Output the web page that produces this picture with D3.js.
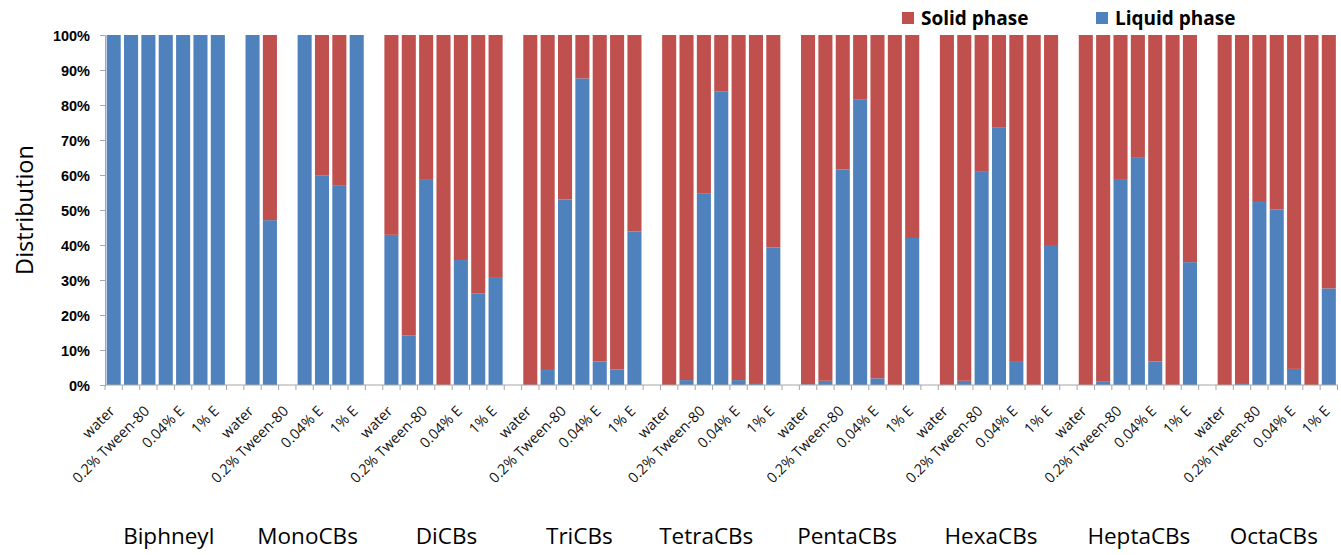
<!DOCTYPE html>
<html>
<head>
<meta charset="utf-8">
<script src="https://cdn.jsdelivr.net/npm/d3@7"></script>
<style>
  html, body { margin: 0; padding: 0; background: #fff; }
  svg { display: block; }
</style>
</head>
<body>
<svg id="chart" width="1341" height="555"></svg>
<script>
// ---------------- DATA ----------------
const groups = ["Biphneyl", "MonoCBs", "DiCBs", "TriCBs", "TetraCBs", "PentaCBs", "HexaCBs", "HeptaCBs", "OctaCBs"];
// seven conditions per group; only every other one is labelled in the original
const tickLabels = ["water", "", "0.2% Tween-80", "", "0.04% E", "", "1% E"];
const seriesNames = ["Solid phase", "Liquid phase"];
const yTicks = [0, 10, 20, 30, 40, 50, 60, 70, 80, 90, 100];

// Liquid phase (%), one row per group (null = no bar)
const liquid = [
  [100, 100, 100, 100, 100, 100, 100],
  [100, 47.1, null, 100, 59.8, 57.1, 100],
  [42.9, 14.1, 58.6, 0, 35.7, 26.2, 30.6],
  [0, 4.3, 53.0, 87.6, 6.7, 4.4, 43.9],
  [0, 1.4, 54.8, 83.8, 1.4, 0.3, 39.3],
  [0.2, 1.2, 61.6, 81.5, 1.9, 0, 42.0],
  [0, 1.2, 60.9, 73.5, 6.6, 0, 40.0],
  [0, 1.1, 58.6, 64.9, 6.7, 0, 35.1],
  [0, 0.3, 52.3, 50.2, 4.6, 0, 27.6]
];
// Solid phase (%)
const solid = [
  [0, 0, 0, 0, 0, 0, 0],
  [0, 52.9, null, 0, 40.2, 42.9, 0],
  [57.1, 85.9, 41.4, 100, 64.3, 73.8, 69.4],
  [100, 95.7, 47.0, 12.4, 93.3, 95.6, 56.1],
  [100, 98.6, 45.2, 16.2, 98.6, 99.7, 60.7],
  [99.8, 98.8, 38.4, 18.5, 98.1, 100, 58.0],
  [100, 98.8, 39.1, 26.5, 93.4, 100, 60.0],
  [100, 98.9, 41.4, 35.1, 93.3, 100, 64.9],
  [100, 99.7, 47.7, 49.8, 95.4, 100, 72.4]
];

// ---------------- LAYOUT / STYLE ----------------
const colors = { "Solid phase": "#C0504D", "Liquid phase": "#4F81BD" };
const plot = { left: 105, right: 1337.5, top: 35, bottom: 385 };
const groupLabelNudge = [3, 3, 3, -3, -15, -13, -8, 1, -3];
const axisColor = "#a6a6a6";

// build slot table: 7 bars + 1 empty separator per group (none after last)
const slots = [];
groups.forEach((g, gi) => {
  tickLabels.forEach((lab, ci) => {
    slots.push({ key: g + "|" + ci, group: g, gi, ci, label: lab,
      "Liquid phase": liquid[gi][ci], "Solid phase": solid[gi][ci],
      missing: liquid[gi][ci] === null });
  });
  if (gi < groups.length - 1) slots.push({ key: g + "|gap", group: g, gi, ci: -1, label: "", gap: true });
});

const svg = d3.select("#chart");
svg.append("rect").attr("width", 1341).attr("height", 555).attr("fill", "#fff");

const x = d3.scaleBand().domain(slots.map(d => d.key))
  .range([plot.left, plot.right]).paddingInner(0.19).paddingOuter(0.095);
const y = d3.scaleLinear().domain([0, 100]).range([plot.bottom, plot.top]);

// stacked bars (liquid at bottom, solid on top)
const barData = slots.filter(d => !d.gap && !d.missing);
const stack = d3.stack().keys(["Liquid phase", "Solid phase"]);
const stacked = stack(barData);

svg.append("g").selectAll("g").data(stacked).join("g")
  .attr("fill", s => colors[s.key])
  .selectAll("rect").data(s => s).join("rect")
  .attr("x", d => x(d.data.key))
  .attr("width", x.bandwidth())
  .attr("y", d => y(d[1]))
  .attr("height", d => Math.max(0, y(d[0]) - y(d[1])));

// Y axis
const yAxis = d3.axisLeft(y).tickValues(yTicks).tickFormat(d => d + "%")
  .tickSize(5).tickPadding(10);
const yg = svg.append("g").attr("transform", `translate(${plot.left},0)`).call(yAxis);
yg.select(".domain").attr("stroke", axisColor);
yg.selectAll(".tick line").attr("stroke", axisColor);
yg.selectAll(".tick text")
  .attr("font-family", "Liberation Sans, Arial, sans-serif")
  .attr("font-weight", "bold").attr("font-size", "14.5px").attr("fill", "#000")
  .attr("dy", "0.36em");

// X axis line + boundary ticks
const xg = svg.append("g");
xg.append("line").attr("x1", plot.left).attr("x2", plot.right)
  .attr("y1", plot.bottom).attr("y2", plot.bottom).attr("stroke", axisColor);
const half = (x.step() - x.bandwidth()) / 2;
const boundaries = slots.map(d => x(d.key) - half).concat([x(slots[slots.length - 1].key) + x.bandwidth() + half]);
xg.selectAll("line.tk").data(boundaries).join("line").attr("class", "tk")
  .attr("x1", d => d).attr("x2", d => d)
  .attr("y1", plot.bottom).attr("y2", plot.bottom + 5).attr("stroke", axisColor);

// rotated category labels
xg.selectAll("text.cat").data(slots.filter(d => d.label)).join("text").attr("class", "cat")
  .attr("transform", d => `translate(${x(d.key) + x.bandwidth() / 2 + 2},${plot.bottom + 27}) rotate(-45)`)
  .attr("text-anchor", "end")
  .attr("font-family", "Open Sans, sans-serif").attr("font-size", "14.5px").attr("fill", "#111")
  .text(d => d.label);

// group labels
svg.append("g").selectAll("text").data(groups).join("text")
  .attr("x", (g, i) => {
    const first = x(g + "|0"), last = x(g + "|6") + x.bandwidth();
    return (first + last) / 2 + groupLabelNudge[i];
  })
  .attr("y", 544)
  .attr("text-anchor", "middle")
  .attr("font-family", "Open Sans, sans-serif").attr("font-size", "22.5px").attr("fill", "#000")
  .text(g => g);

// Y title
svg.append("text")
  .attr("transform", `translate(33,${(plot.top + plot.bottom) / 2}) rotate(-90)`)
  .attr("text-anchor", "middle")
  .attr("font-family", "Open Sans, sans-serif").attr("font-size", "23.5px").attr("fill", "#000")
  .text("Distribution");

// legend
const legendX = [902, 1096];
const lg = svg.append("g").selectAll("g").data(seriesNames).join("g")
  .attr("transform", (d, i) => `translate(${legendX[i]},12)`);
lg.append("rect").attr("width", 12).attr("height", 12).attr("fill", d => colors[d]);
lg.append("text").attr("x", 19).attr("y", 13)
  .attr("font-family", "Open Sans, sans-serif").attr("font-weight", "bold")
  .attr("font-size", "19px").attr("fill", "#000").text(d => d);
</script>
</body>
</html>
